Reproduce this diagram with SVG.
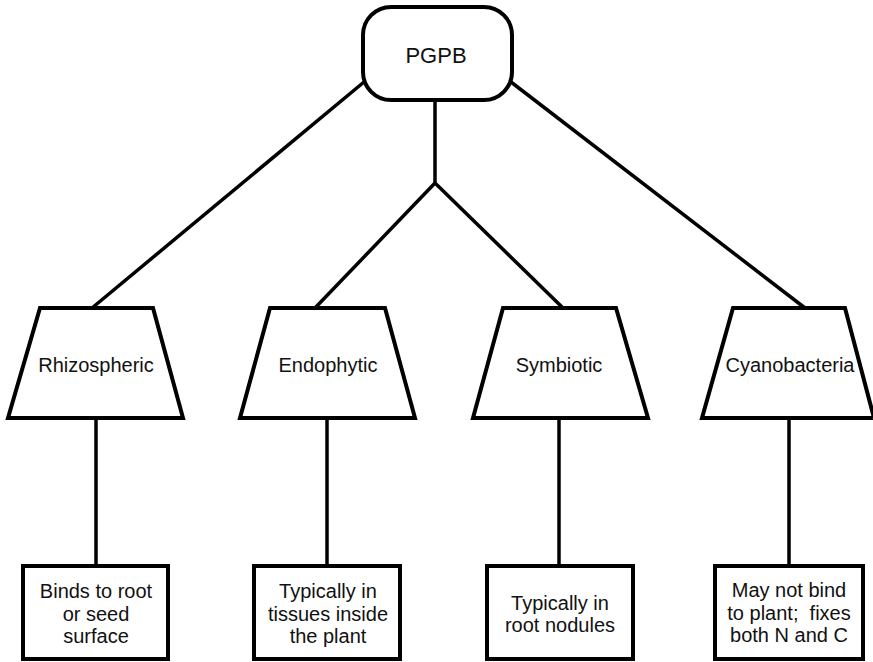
<svg xmlns="http://www.w3.org/2000/svg" width="873" height="662" viewBox="0 0 873 662">
  <style>
    .shape { fill: #ffffff; stroke: #000000; stroke-width: 4; stroke-linejoin: miter; }
    .link { fill: none; stroke: #000000; stroke-width: 3.5; stroke-linecap: butt; }
    text { font-family: "Liberation Sans", Arial, Helvetica, sans-serif; font-size: 20px; fill: #111111; text-anchor: middle; white-space: pre; }
    .root { font-size: 22px; }
  </style>
  <rect width="873" height="662" fill="#ffffff"/>

  <!-- connectors -->
  <g id="connectors">
    <line class="link" x1="364" y1="82" x2="92" y2="308"/>
    <line class="link" x1="511" y1="82" x2="805" y2="308"/>
    <polyline class="link" points="435,100 435,183"/>
    <line class="link" x1="435" y1="183" x2="315" y2="308"/>
    <line class="link" x1="435" y1="183" x2="563" y2="308"/>
    <line class="link" x1="96" y1="418" x2="96" y2="566"/>
    <line class="link" x1="327" y1="418" x2="327" y2="566"/>
    <line class="link" x1="559" y1="418" x2="559" y2="566"/>
    <line class="link" x1="789" y1="418" x2="789" y2="566"/>
  </g>

  <!-- root -->
  <g id="pgpb">
    <rect class="shape" x="363" y="7" width="149" height="93" rx="28" ry="28"/>
    <text class="root" x="436" y="63">PGPB</text>
  </g>

  <!-- categories -->
  <g id="rhizospheric">
    <polygon class="shape" points="40,308 153,308 183,418 8,418"/>
    <text x="96" y="372">Rhizospheric</text>
  </g>
  <g id="endophytic">
    <polygon class="shape" points="270,308 385,308 415,418 240,418"/>
    <text x="328" y="372">Endophytic</text>
  </g>
  <g id="symbiotic">
    <polygon class="shape" points="503,308 616,308 648,418 473,418"/>
    <text x="559" y="372">Symbiotic</text>
  </g>
  <g id="cyanobacteria">
    <polygon class="shape" points="733,308 845,308 874,418 702,418"/>
    <text x="790" y="372">Cyanobacteria</text>
  </g>

  <!-- descriptions -->
  <g id="desc-rhizospheric">
    <rect class="shape" x="23" y="566" width="145" height="93"/>
    <text x="96" y="598">Binds to root</text>
    <text x="96" y="620.5">or seed</text>
    <text x="96" y="643">surface</text>
  </g>
  <g id="desc-endophytic">
    <rect class="shape" x="254" y="566" width="146" height="93"/>
    <text x="328" y="598">Typically in</text>
    <text x="328" y="620.5">tissues inside</text>
    <text x="328" y="643">the plant</text>
  </g>
  <g id="desc-symbiotic">
    <rect class="shape" x="487" y="566" width="146" height="93"/>
    <text x="560" y="610">Typically in</text>
    <text x="560" y="632">root nodules</text>
  </g>
  <g id="desc-cyanobacteria">
    <rect class="shape" x="715" y="566" width="148" height="93"/>
    <text x="789" y="597">May not bind</text>
    <text x="789" y="620">to plant;  fixes</text>
    <text x="789" y="642">both N and C</text>
  </g>
</svg>
